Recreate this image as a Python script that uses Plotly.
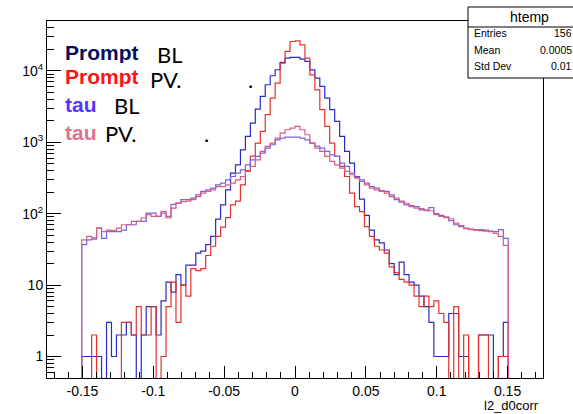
import math
import plotly.graph_objects as go

# ---------------- data ----------------
X_MIN, X_MAX, N_BINS = -0.175, 0.175, 100
FIRST_BIN = 7  # index of first filled bin (bins 7..92 filled)

# counts per bin, bins 7..92
prompt_bl = [1, 1, 1, 1, 0, 3, 1, 2, 2, 3,
             2, 0, 2, 5, 5, 2, 6, 11, 8, 14,
             10, 19, 19, 28, 30, 37, 48, 84, 133, 216,
             370, 484, 785, 1209, 1859, 2918, 4393, 6400, 8555, 10380,
             13150, 15130, 15460, 15460, 14630, 13560, 10370, 7935, 6070, 4170,
             2860, 1965, 1210, 745, 512, 332, 160, 95, 59, 43,
             39, 31, 20, 14, 21, 14, 11, 10, 7, 5,
             3, 1, 1, 1, 4, 4, 1, 1, 0, 0,
             2, 2, 2, 0, 1, 3]
prompt_pv = [0, 0, 2, 0, 0, 0, 0, 0, 3, 3,
             2, 5, 2, 2, 5, 0, 1, 5, 11, 3,
             10, 7, 17, 16, 17, 26, 35, 48, 65, 88,
             133, 150, 254, 400, 640, 975, 1422, 2434, 4170, 6760,
             12880, 18720, 25800, 26370, 23170, 15090, 8820, 5430, 2860, 1669,
             975, 634, 459, 332, 194, 126, 107, 66, 48, 35,
             31, 28, 18, 15, 12, 11, 10, 7, 5, 7,
             5, 6, 4, 3, 0, 5, 0, 2, 0, 0,
             2, 2, 0, 0, 1, 1]
tau_bl = [37, 43, 44, 63, 45, 56, 56, 56, 59, 70,
          70, 78, 78, 102, 102, 92, 102, 92, 135, 141,
          157, 157, 165, 184, 205, 216, 228, 254, 268, 298,
          332, 370, 412, 484, 569, 634, 705, 830, 924, 1085,
          1146, 1183, 1183, 1183, 1146, 1085, 975, 885, 830, 745,
          668, 634, 512, 459, 370, 325, 298, 268, 240, 228,
          211, 205, 184, 157, 145, 133, 130, 126, 113, 110,
          122, 100, 95, 90, 80, 70, 68, 62, 61, 60,
          58, 59, 57, 56, 60, 45]
tau_pv = [43, 48, 46, 63, 56, 59, 58, 63, 70, 70,
          78, 78, 87, 97, 92, 92, 108, 87, 120, 141,
          148, 150, 157, 174, 194, 205, 216, 240, 240, 254,
          268, 298, 332, 391, 459, 569, 745, 875, 975, 1146,
          1346, 1499, 1581, 1669, 1499, 1276, 975, 830, 745, 634,
          540, 484, 435, 391, 351, 315, 283, 254, 228, 216,
          205, 194, 174, 165, 150, 140, 126, 120, 118, 113,
          110, 97, 92, 88, 85, 74, 66, 63, 60, 59,
          60, 57, 56, 53, 48, 36]

series_names = ["Prompt BL", "Prompt PV", "tau BL", "tau PV"]
line_colors = ["#2b2bc4", "#e3322e", "#7a62e6", "#d95c7c"]

x_tick_vals = [-0.15, -0.1, -0.05, 0, 0.05, 0.1, 0.15]
x_tick_text = ["-0.15", "-0.1", "-0.05", "0", "0.05", "0.1", "0.15"]
y_tick_vals = [1, 10, 100, 1000, 10000]
y_tick_text = ["1", "10", "10<sup>2</sup>", "10<sup>3</sup>", "10<sup>4</sup>"]

stat_labels = ["Entries", "Mean", "Std Dev"]
stat_values = ["156", "0.0005", "0.01"]

# ---------------- figure ----------------
W, H = 573, 414
ML, MR, MT, MB = 47, 30, 21, 36
PW, PH = W - ML - MR, H - MT - MB
Y_LO, Y_HI = 0.5, 5.0e4
FLOOR = 0.05  # empty bins drawn below the frame (as ROOT does)


def px(xp):
    return (xp - ML) / PW


def py(yp):
    return (H - MB - yp) / PH


bw = (X_MAX - X_MIN) / N_BINS
edges = [X_MIN + i * bw for i in range(N_BINS + 1)]

fig = go.Figure()
for name, vals, col in zip(series_names, [prompt_bl, prompt_pv, tau_bl, tau_pv], line_colors):
    full = [0] * FIRST_BIN + list(vals)
    full = full + [0] * (N_BINS - len(full))
    ys = [max(v, FLOOR) for v in full]
    fig.add_trace(go.Scatter(
        x=edges[:-1] + [edges[-1]],
        y=ys + [ys[-1]],
        mode="lines", line=dict(color=col, width=1.2, shape="hv"),
        name=name, hoverinfo="skip"))

x_minor = [round(-0.17 + 0.01 * k, 3) for k in range(35)]
y_minor = [m * 10 ** e for e in range(-1, 5) for m in range(2, 10) if Y_LO <= m * 10 ** e <= Y_HI]

fig.update_layout(
    width=W, height=H,
    margin=dict(l=ML, r=MR, t=MT, b=MB, pad=0),
    paper_bgcolor="white", plot_bgcolor="white",
    showlegend=False,
    font=dict(family="Liberation Sans", color="black", size=14),
    xaxis=dict(range=[X_MIN, X_MAX], showline=True, linecolor="black", linewidth=1, mirror=True,
               ticks="inside", ticklen=12, tickcolor="black", tickwidth=1,
               tickmode="array", tickvals=x_tick_vals, ticktext=x_tick_text,
               tickfont=dict(size=14), showgrid=False, zeroline=False, automargin=False,
               minor=dict(ticks="inside", ticklen=6, tickcolor="black", tickmode="array",
                          tickvals=x_minor, showgrid=False)),
    yaxis=dict(type="log", range=[math.log10(Y_LO), math.log10(Y_HI)], showline=True,
               linecolor="black", linewidth=1, mirror=True,
               ticks="inside", ticklen=14, tickcolor="black", tickwidth=1,
               tickmode="array", tickvals=y_tick_vals, ticktext=y_tick_text,
               tickfont=dict(size=14), showgrid=False, zeroline=False, automargin=False,
               minor=dict(ticks="inside", ticklen=7, tickcolor="black", tickmode="array",
                          tickvals=y_minor, showgrid=False)),
)

ann = []
# x axis title
ann.append(dict(text="l2_d0corr", x=px(541), y=py(405), xref="paper", yref="paper",
                xanchor="right", yanchor="middle", showarrow=False,
                font=dict(family="Liberation Sans", size=13, color="black")))

# legend-like text
bold = "Liberation Sans"
reg = "Lato"
legend_items = [
    ("Prompt", "#0b0b5c", 63, 51.5, "BL", 155, 54),
    ("Prompt", "#ff1414", 63, 76, "PV.", 148, 78.5),
    ("tau", "#5535ff", 63, 104, "BL", 112, 105),
    ("tau", "#e07290", 63, 132, "PV.", 103, 132.5),
]
for word, col, xw, yw, suffix, xs, ys_ in legend_items:
    ann.append(dict(text="<b>%s</b>" % word, x=px(xw), y=py(yw), xref="paper", yref="paper",
                    xanchor="left", yanchor="middle", showarrow=False, height=22,
                    font=dict(family=bold, size=21, color=col)))
    ann.append(dict(text=suffix, x=px(xs), y=py(ys_), xref="paper", yref="paper",
                    xanchor="left", yanchor="middle", showarrow=False, height=22,
                    font=dict(family=reg, size=22, color="black")))
for xd, yd in [(250, 78.5), (206, 133)]:
    ann.append(dict(text=".", x=px(xd), y=py(yd), xref="paper", yref="paper",
                    xanchor="center", yanchor="middle", showarrow=False, height=22,
                    font=dict(family=reg, size=22, color="black")))

# stats box
shapes = [
    dict(type="rect", xref="paper", yref="paper", x0=px(468), x1=px(600), y0=py(78), y1=py(7),
         line=dict(color="black", width=1), fillcolor="white", layer="above"),
    dict(type="line", xref="paper", yref="paper", x0=px(468), x1=px(600), y0=py(27), y1=py(27),
         line=dict(color="black", width=1), layer="above"),
]
ann.append(dict(text="htemp", x=px(529), y=py(17), xref="paper", yref="paper",
                xanchor="center", yanchor="middle", showarrow=False,
                font=dict(family="Liberation Sans", size=14, color="black")))
for i, (lab, val) in enumerate(zip(stat_labels, stat_values)):
    yy = 33.5 + 16 * i
    ann.append(dict(text=lab, x=px(472), y=py(yy), xref="paper", yref="paper",
                    xanchor="left", yanchor="middle", showarrow=False,
                    font=dict(family="Liberation Sans", size=10.5, color="black")))
    ann.append(dict(text=val, x=px(574), y=py(yy), xref="paper", yref="paper",
                    xanchor="right", yanchor="middle", showarrow=False,
                    font=dict(family="Liberation Sans", size=10.5, color="black")))

fig.update_layout(annotations=ann, shapes=shapes)
fig.write_html("out.html")
